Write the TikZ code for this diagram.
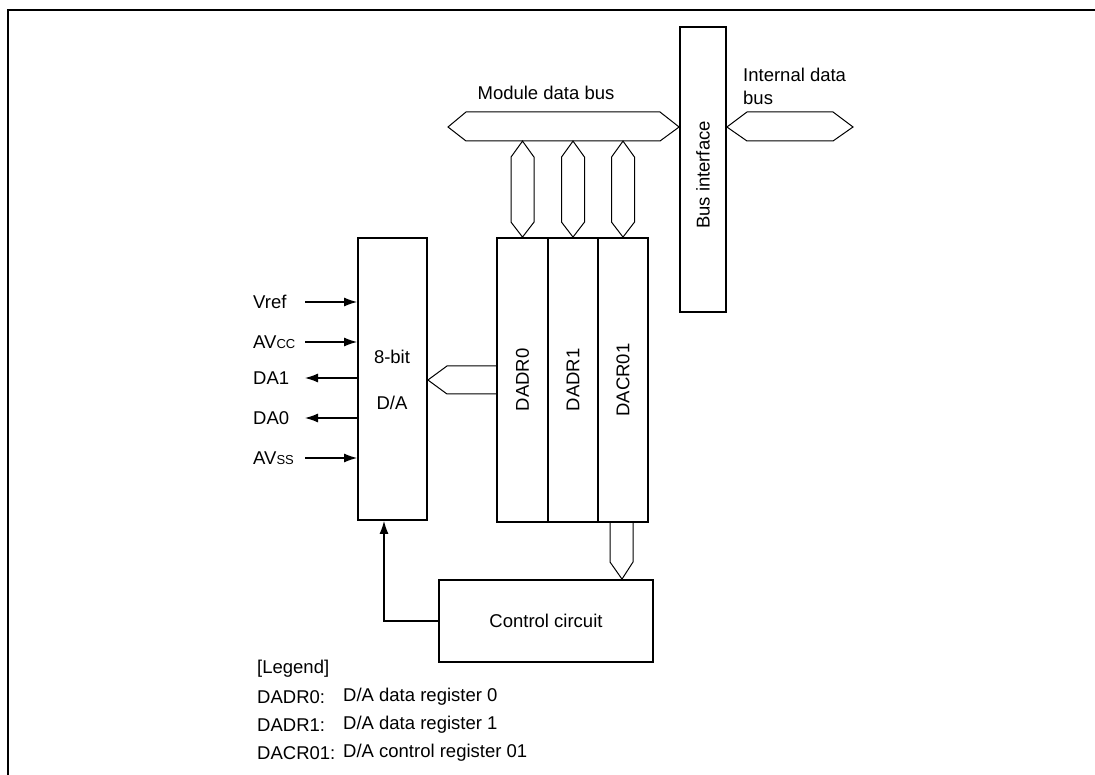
\documentclass[tikz,border=0pt]{standalone}
\usepackage{fontspec}
\setmainfont{Liberation Sans}
\usetikzlibrary{arrows.meta,calc}
\newcommand\dfs{\fontsize{18.5}{23}\selectfont}
\newcommand\subfs{\fontsize{13}{13}\selectfont}
\begin{document}
\begin{tikzpicture}[x=1pt,y=-1pt,
  box/.style={draw,line width=1.8pt,inner sep=0pt},
  bus/.style={draw,line width=1pt,line join=miter},
  sig/.style={line width=1.2pt,-{Latex[length=13pt,width=9pt]}},
  lbl/.style={inner sep=0pt,font=\dfs},
  vlbl/.style={inner sep=0pt,font=\dfs,rotate=90}]
\useasboundingbox (0,0) rectangle (1095,775);
% frame
\draw[line width=2pt] (8,775) -- (8,10) -- (1095,10);

% boxes
\node[box,minimum width=46pt,minimum height=285pt] (bi) at (703,169.5) {};
\node[box,minimum width=69pt,minimum height=282pt] (da) at (392.5,379) {};
\node[box,minimum width=51pt,minimum height=284pt] (r0) at (522.5,380) {};
\node[box,minimum width=50pt,minimum height=284pt] (r1) at (573,380) {};
\node[box,minimum width=50pt,minimum height=284pt] (r2) at (623,380) {};
\node[box,minimum width=214pt,minimum height=82pt] (cc) at (546,621) {};

% box texts
\node[vlbl] (bit) at (703,175) {Bus interface};
\node[vlbl] (t0) at (r0.center) {DADR0};
\node[vlbl] (t1) at (r1.center) {DADR1};
\node[vlbl] (t2) at (r2.center) {DACR01};
\node[lbl] (t8) at (392,357) {8-bit};
\node[lbl] (tda) at (392,403) {D/A};
\node[lbl] (tcc) at (cc.center) {Control circuit};

% module data bus
\coordinate (mL) at (448,127);
\draw[bus] (mL) -- (466,112) -- (660,112) -- (bi.west |- mL) -- (660,141) -- (466,141) -- cycle;
\node[lbl] (mdb) at (546,93) {Module data bus};
% internal data bus
\draw[bus] (bi.east |- mL) -- (747,112) -- (833,112) -- (853,127) -- (833,141) -- (747,141) -- cycle;
\node[lbl,anchor=west,align=left] (idb) at (743,86.5) {Internal data\\bus};

% vertical buses
\foreach \r in {r0,r1,r2}{
  \draw[bus] ($(\r.north)+(0,-96)$) -- ($(\r.north)+(11.5,-80)$) -- ($(\r.north)+(11.5,-15)$)
    -- (\r.north) -- ($(\r.north)+(-11.5,-15)$) -- ($(\r.north)+(-11.5,-80)$) -- cycle;
}

% bus from DADR0 to D/A
\coordinate (dtip) at (da.east |- 0,380);
\draw[bus] (r0.west |- 0,366) -- (447,366) -- (dtip) -- (447,394) -- (r0.west |- 0,394);

% bus from DACR01 to control circuit
\draw[bus] (610,522) -- (610,562) -- (cc.north -| 622,0) -- (633,562) -- (633,522);

% pins
\node[lbl,anchor=west] (vref) at (253,302) {Vref};
\node[lbl,anchor=west] (avcc) at (253,342) {AV{\subfs CC}};
\node[lbl,anchor=west] (da1) at (253,378) {DA1};
\node[lbl,anchor=west] (da0) at (253,418) {DA0};
\node[lbl,anchor=west] (avss) at (253,458) {AV{\subfs SS}};
\coordinate (p1) at (305,302);
\coordinate (p2) at (305,342);
\coordinate (p3) at (305,378);
\coordinate (p4) at (305,418);
\coordinate (p5) at (305,458);
\draw[sig] (p1) -- (da.west |- p1);
\draw[sig] (p2) -- (da.west |- p2);
\draw[sig] (da.west |- p3) -- (p3);
\draw[sig] (da.west |- p4) -- (p4);
\draw[sig] (p5) -- (da.west |- p5);

% control to D/A
\coordinate (cb) at (384,621);
\draw[sig] (cc.west) -- (cb) -- (da.south -| cb);

% legend
\node[lbl,anchor=west] (leg) at (257,669) {[Legend]};
\node[lbl,anchor=west] (l0) at (257,697) {DADR0:};
\node[lbl,anchor=west] (l1) at (257,725) {DADR1:};
\node[lbl,anchor=west] (l2) at (257,753) {DACR01:};
\node[lbl,anchor=west] (d0) at (343,697) {D/A data register 0};
\node[lbl,anchor=west] (d1) at (343,725) {D/A data register 1};
\node[lbl,anchor=west] (d2) at (343,753) {D/A control register 01};
\end{tikzpicture}
\end{document}
